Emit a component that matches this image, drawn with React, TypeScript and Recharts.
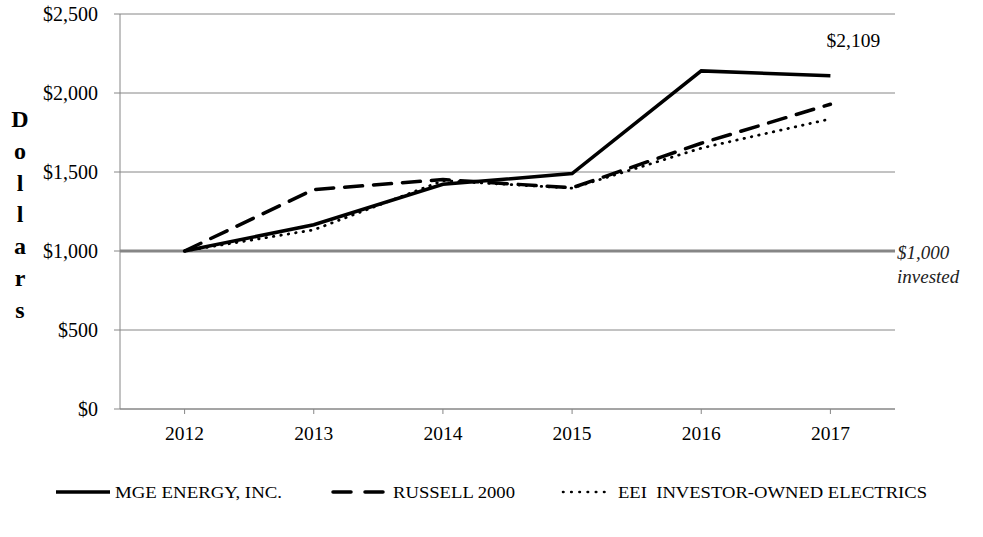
import {
  CartesianGrid,
  LabelList,
  Line,
  LineChart,
  ReferenceLine,
  XAxis,
  YAxis,
} from "recharts";

const years = ["2012", "2013", "2014", "2015", "2016", "2017"];
const mgeEnergy = [1000, 1166, 1422, 1490, 2140, 2109];
const russell2000 = [1000, 1389, 1452, 1400, 1682, 1929];
const eeiElectrics = [1000, 1134, 1445, 1398, 1651, 1836];
const yTicks = [0, 500, 1000, 1500, 2000, 2500];

const seriesNames = {
  mge: "MGE ENERGY, INC.",
  russell: "RUSSELL 2000",
  eei: "EEI  INVESTOR-OWNED ELECTRICS",
};

const data = years.map((year, i) => ({
  year,
  mge: mgeEnergy[i],
  russell: russell2000[i],
  eei: eeiElectrics[i],
}));

const FONT = '"Liberation Serif", "Times New Roman", serif';
const GRID = "#868686";
const RUSSELL_DASH = "18 11";
const EEI_DOTS = "0.5 7";

const money = (v: number) => "$" + v.toLocaleString("en-US");

function YTick(props: any) {
  const { y, payload } = props;
  return (
    <text x={98} y={y + 6.5} textAnchor="end" fontFamily={FONT} fontSize={20} fill="#000">
      {money(payload.value)}
    </text>
  );
}

function XTick(props: any) {
  const { x, payload } = props;
  return (
    <text x={x} y={440} textAnchor="middle" fontFamily={FONT} fontSize={19.5} fill="#000">
      {payload.value}
    </text>
  );
}

function InvestedLabel(props: any) {
  const { viewBox } = props;
  const x = viewBox.x + viewBox.width + 2;
  return (
    <text x={x} y={259} fontFamily={FONT} fontStyle="italic" fontSize={19} fill="#222">
      <tspan x={x}>$1,000</tspan>
      <tspan x={x} dy={24}>invested</tspan>
    </text>
  );
}

function EndLabel(props: any) {
  const { x, y, value, index } = props;
  if (index !== years.length - 1) return null;
  return (
    <text x={x + 23} y={y - 29} textAnchor="middle" fontFamily={FONT} fontSize={19.5} fill="#000">
      {money(value)}
    </text>
  );
}

function DollarsLabel() {
  const letters = "Dollars".split("");
  return (
    <div style={{ position: "absolute", left: 9, top: 105, width: 22, fontFamily: FONT }}>
      {letters.map((c, i) => (
        <div
          key={i}
          style={{
            position: "absolute",
            top: i * 31.8,
            width: 22,
            textAlign: "center",
            fontWeight: "bold",
            fontSize: 24,
            lineHeight: "28px",
          }}
        >
          {c}
        </div>
      ))}
    </div>
  );
}

const legendItems = [
  { key: "mge", x1: 56, x2: 110, tx: 115, len: 167, dash: undefined, width: 3.5, cap: "butt" },
  { key: "russell", x1: 333, x2: 385, tx: 393, len: 122, dash: "18 14", width: 3.5, cap: "round" },
  { key: "eei", x1: 563, x2: 612, tx: 618, len: 309, dash: "0.5 7.7", width: 2.6, cap: "round" },
] as const;

function ChartLegend() {
  return (
    <svg width={983} height={30} style={{ position: "absolute", left: 0, top: 477 }}>
      {legendItems.map((it) => (
        <g key={it.key}>
          <line
            x1={it.x1}
            x2={it.x2}
            y1={15}
            y2={15}
            stroke="#000"
            strokeWidth={it.width}
            strokeDasharray={it.dash}
            strokeLinecap={it.cap}
          />
          <text
            x={it.tx}
            y={21}
            fontFamily={FONT}
            fontSize={17}
            fill="#000"
            textLength={it.len}
            lengthAdjust="spacingAndGlyphs"
            style={{ whiteSpace: "pre" }}
          >
            {seriesNames[it.key]}
          </text>
        </g>
      ))}
    </svg>
  );
}

export default function App() {
  return (
    <div style={{ position: "absolute", left: 0, top: 0, width: 983, height: 537, background: "#fff" }}>
      <LineChart
        width={983}
        height={537}
        data={data}
        margin={{ top: 14, right: 88, left: 0, bottom: 98 }}
      >
        <CartesianGrid vertical={false} stroke={GRID} strokeWidth={1} />
        <XAxis
          dataKey="year"
          height={30}
          stroke={GRID}
          tickSize={5}
          padding={{ left: 64.6, right: 64.6 }}
          tick={<XTick />}
        />
        <YAxis
          width={120}
          domain={[0, 2500]}
          ticks={yTicks}
          stroke={GRID}
          tickSize={6}
          tick={<YTick />}
        />
        <YAxis
          yAxisId="right"
          orientation="right"
          width={0}
          tick={false}
          tickLine={false}
          stroke={GRID}
          domain={[0, 2500]}
        />
        <ReferenceLine
          y={1000}
          stroke={GRID}
          strokeWidth={3}
          label={<InvestedLabel />}
        />
        <Line
          dataKey="eei"
          name={seriesNames.eei}
          stroke="#000"
          strokeWidth={2.8}
          strokeDasharray={EEI_DOTS}
          strokeLinecap="round"
          dot={false}
          isAnimationActive={false}
        />
        <Line
          dataKey="russell"
          name={seriesNames.russell}
          stroke="#000"
          strokeWidth={3.5}
          strokeDasharray={RUSSELL_DASH}
          strokeLinecap="round"
          dot={false}
          isAnimationActive={false}
        />
        <Line
          dataKey="mge"
          name={seriesNames.mge}
          stroke="#000"
          strokeWidth={3.5}
          dot={false}
          isAnimationActive={false}
        >
          <LabelList dataKey="mge" content={<EndLabel />} />
        </Line>
      </LineChart>
      <DollarsLabel />
      <ChartLegend />
    </div>
  );
}
